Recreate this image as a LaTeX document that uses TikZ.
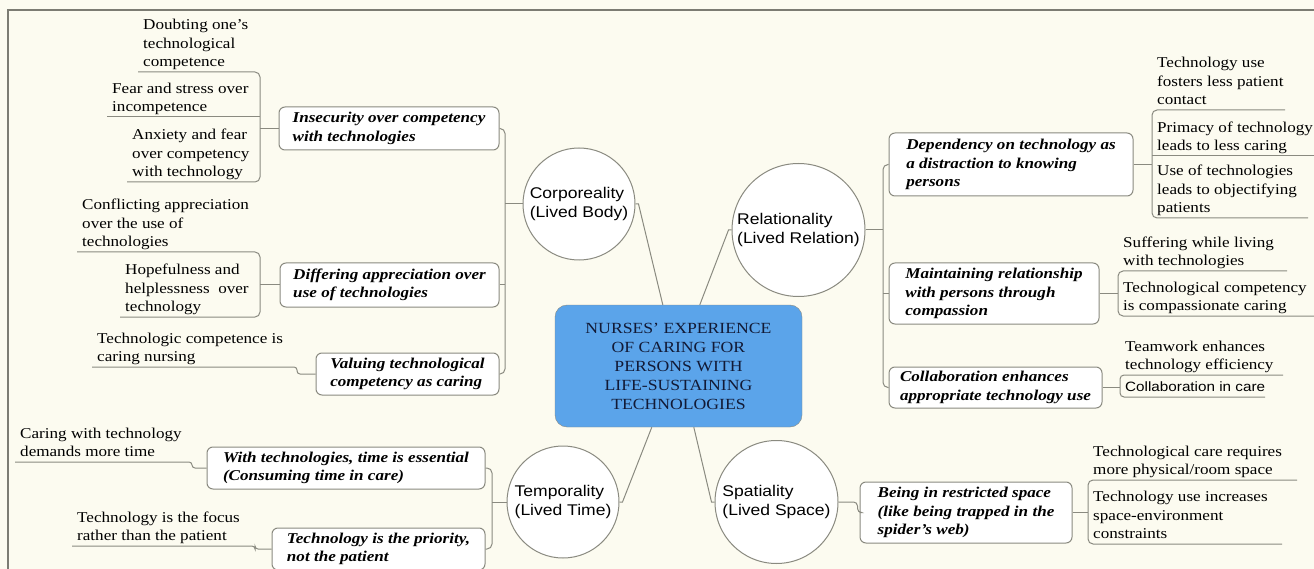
\documentclass[tikz,border=0pt]{standalone}
\usepackage{fontspec}
\setmainfont{Liberation Serif}[FakeStretch=1.14]
\setsansfont{Liberation Sans}[FakeStretch=1.13]
\definecolor{paper}{HTML}{FCFBF0}
\definecolor{wire}{HTML}{8A8A80}
\definecolor{hubblue}{HTML}{5BA4EA}
\definecolor{hubtext}{HTML}{121A36}

\begin{document}
\begin{tikzpicture}[x=1pt, y=-1pt,
	every node/.style={font=\fontsize{15}{18.7}\selectfont},
	link/.style={draw=wire, line width=1pt},
	frame/.style={draw=wire!90!black, line width=1.3pt},
	hub/.style={draw=wire, fill=hubblue, rounded corners=12pt, align=center, inner sep=0pt,
		text=hubtext, font=\fontsize{15.5}{19}\selectfont},
	theme/.style={circle, draw=wire, fill=white, line width=1pt, align=left, inner sep=0pt,
		font=\sffamily\fontsize{15.5}{19}\selectfont},
	sub/.style={draw=wire, fill=white, rounded corners=6pt, line width=1pt, align=left, inner sep=0pt,
		font=\bfseries\itshape\fontsize{15}{18.5}\selectfont},
	leaf/.style={anchor=south west, align=left, inner xsep=5pt, inner ysep=1pt,
		execute at end node={\rule[-4pt]{0pt}{4pt}}}]
	\useasboundingbox[fill=paper] (0,0) rectangle (1314,569);
	\draw[frame] (8,569) -- (8,10) -- (1314,10);

	% core and the four themes
	\node[hub, minimum width=247pt, minimum height=122pt] (hub) at (678.5,366)
		{NURSES' EXPERIENCE\\OF CARING FOR\\PERSONS WITH\\LIFE-SUSTAINING\\TECHNOLOGIES};
	\node[theme, minimum size=112pt] (corp) at (579,204) {Corporeality\\(Lived Body)};
	\node[theme, minimum size=133pt] (rel) at (798.5,230) {Relationality\\(Lived Relation)};
	\node[theme, minimum size=112pt] (temp) at (563,502) {Temporality\\(Lived Time)};
	\node[theme, minimum size=123pt] (spat) at (776.5,502) {Spatiality\\(Lived Space)};

	\draw[link] (corp.east) -- ++(3,0) -- ([xshift=108pt]hub.north west);
	\draw[link] (rel.west) -- ++(-3,0) -- ([xshift=145pt]hub.north west);
	\draw[link] (temp.east) -- ++(3,0) -- ([xshift=97pt]hub.south west);
	\draw[link] (spat.west) -- ++(-3,0) -- ([xshift=139pt]hub.south west);

	% subthemes
	\node[sub, minimum width=220pt, minimum height=43pt] (ins) at (389,128.5) {Insecurity over competency\\with technologies};
	\node[sub, minimum width=219pt, minimum height=44pt] (dif) at (389.5,285) {Differing appreciation over\\use of technologies};
	\node[sub, minimum width=183pt, minimum height=42pt] (val) at (407.5,374) {Valuing technological\\competency as caring};
	\node[sub, minimum width=278pt, minimum height=42pt] (wit) at (346,468) {With technologies, time is essential\\(Consuming time in care)};
	\node[sub, minimum width=213pt, minimum height=42pt] (pri) at (378.5,549) {Technology is the priority,\\not the patient};
	\node[sub, minimum width=244pt, minimum height=63pt] (dep) at (1011,164.5) {Dependency on technology as\\a distraction to knowing\\persons};
	\node[sub, minimum width=210pt, minimum height=61pt] (mai) at (994,293.5) {Maintaining relationship\\with persons through\\compassion};
	\node[sub, minimum width=213pt, minimum height=41pt] (col) at (995.5,387.5) {Collaboration enhances\\appropriate technology use};
	\node[sub, minimum width=212pt, minimum height=61pt] (bei) at (966,512.5) {Being in restricted space\\(like being trapped in the\\spider's web)};

	% leaves
	\node[leaf] (dbt) at (138,72) {Doubting one's\\technological\\competence};
	\node[leaf] (fear) at (107,117) {Fear and stress over\\incompetence};
	\node[leaf] (anx) at (127,182) {Anxiety and fear\\over competency\\with technology};
	\node[leaf] (con) at (77,252) {Conflicting appreciation\\over the use of\\technologies};
	\node[leaf] (hop) at (120,317) {Hopefulness and\\helplessness~ over\\technology};
	\node[leaf] (tcc) at (92,367) {Technologic competence is\\caring nursing};
	\node[leaf] (cwt) at (15,462) {Caring with technology\\demands more time};
	\node[leaf] (tif) at (72,546) {Technology is the focus\\rather than the patient};
	\node[leaf] (tuf) at (1152,110) {Technology use\\fosters less patient\\contact};
	\node[leaf] (pmt) at (1152,156) {Primacy of technology\\leads to less caring};
	\node[leaf] (uot) at (1152,218) {Use of technologies\\leads to objectifying\\patients};
	\node[leaf] (suf) at (1118,271) {Suffering while living\\with technologies};
	\node[leaf] (tcp) at (1118,316) {Technological competency\\is compassionate caring};
	\node[leaf] (tee) at (1120,375) {Teamwork enhances\\technology efficiency};
	\node[leaf, font=\sffamily\fontsize{13.5}{16}\selectfont] (cic) at (1120,397) {Collaboration in care};
	\node[leaf] (tcr) at (1088,480) {Technological care requires\\more physical/room space};
	\node[leaf] (tui) at (1088,544) {Technology use increases\\space-environment\\constraints};

	% Corporeality branch
	\coordinate (corpbus) at (505,205);
	\coordinate (insbus) at (260,128);
	\coordinate (difbus) at (260,285);
	\draw[link] (corp.west) -- (corp.west -| corpbus);
	\draw[link, rounded corners=5pt] (ins.east) -- (ins.east -| corpbus) -- (val.east -| corpbus) -- (val.east);
	\draw[link] (dif.east) -- (dif.east -| corpbus);
	\draw[link, rounded corners=5pt] (dbt.south west) -- (dbt.south west -| insbus) -- (anx.south west -| insbus) -- (anx.south west);
	\draw[link] (fear.south west) -- (fear.south west -| insbus);
	\draw[link] (ins.west) -- (ins.west -| insbus);
	\draw[link, rounded corners=5pt] (con.south west) -- (con.south west -| difbus) -- (hop.south west -| difbus) -- (hop.south west);
	\draw[link] (dif.west) -- (dif.west -| difbus);
	\draw[link, rounded corners=3pt] (tcc.south west) -- ++(205,0) |- (val.west);

	% Temporality branch
	\coordinate (tempbus) at (492,502);
	\draw[link] (temp.west) -- (temp.west -| tempbus);
	\draw[link, rounded corners=5pt] (wit.east) -- (wit.east -| tempbus) -- (pri.east -| tempbus) -- (pri.east);
	\draw[link, rounded corners=3pt] (cwt.south west) -- ++(177,0) |- (wit.west);
	\draw[link, rounded corners=3pt] (tif.south west) -- ++(183,0) |- (pri.west);

	% Relationality branch
	\coordinate (relbus) at (883,230);
	\draw[link] (rel.east) -- (rel.east -| relbus);
	\draw[link, rounded corners=5pt] (dep.west) -- (dep.west -| relbus) -- (col.west -| relbus) -- (col.west);
	\draw[link] (mai.west) -- (mai.west -| relbus);
	\draw[link, rounded corners=5pt] ([xshift=133pt]tuf.south west) -- (tuf.south west) -- (uot.south west) -- ++(156,0);
	\draw[link] (pmt.south west) -- ++(175,0);
	\draw[link] (dep.east) -- (dep.east -| tuf.south west);
	\draw[link, rounded corners=5pt] ([xshift=169pt]suf.south west) -- (suf.south west) -- (tcp.south west) -- ++(200,0);
	\draw[link] (mai.east) -- (mai.east -| suf.south west);
	\draw[link, rounded corners=4pt] ([xshift=163pt]tee.south west) -- (tee.south west) -- (cic.south west) -- ++(145,0);
	\draw[link] (col.east) -- (col.east -| tee.south west);

	% Spatiality branch
	\draw[link, rounded corners=4pt] (spat.east) -- ++(19,0) |- (bei.west);
	\draw[link, rounded corners=5pt] ([xshift=209pt]tcr.south west) -- (tcr.south west) -- (tui.south west) -- ++(194,0);
	\draw[link] (bei.east) -- (bei.east -| tcr.south west);
\end{tikzpicture}
\end{document}
